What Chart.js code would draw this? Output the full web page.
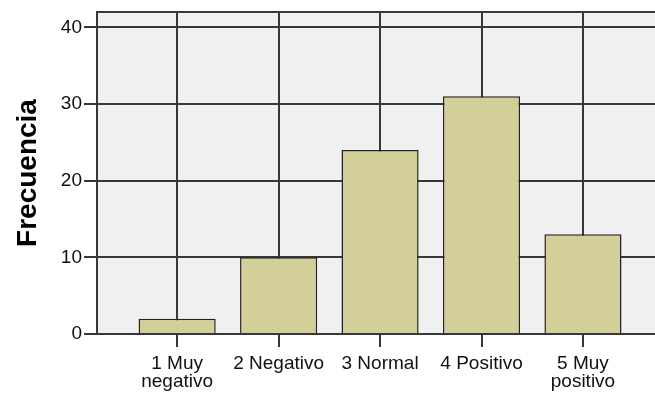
<!DOCTYPE html>
<html>
<head>
<meta charset="utf-8">
<script src="https://cdn.jsdelivr.net/npm/chart.js@4.4.1/dist/chart.umd.min.js"></script>
<style>
  html, body { margin: 0; padding: 0; background: #fff; }
  #wrap { width: 655px; height: 396px; }
</style>
</head>
<body>
<div id="wrap"><canvas id="myChart"></canvas></div>
<script>
	// categorias (etiquetas de dos lineas como en SPSS)
	const categorias = [['1 Muy', 'negativo'], ['2 Negativo'], ['3 Normal'], ['4 Positivo'], ['5 Muy', 'positivo']];
	const posiciones = [1, 2, 3, 4, 5];
	const frecuencias = [2, 10, 24, 31, 13];
	const ticksY = [0, 10, 20, 30, 40];

	const LINEA = '#383838';
	const fuente = "'Liberation Sans', Arial, sans-serif";

	// fondo gris del area + borde superior
	const fondoArea = {
		id: 'fondoArea',
		beforeDraw(chart) {
			const { ctx, chartArea: a } = chart;
			ctx.save();
			ctx.fillStyle = '#f0f0f0';
			ctx.fillRect(a.left, a.top, a.right - a.left, a.bottom - a.top);
			ctx.strokeStyle = LINEA;
			ctx.lineWidth = 2;
			ctx.beginPath();
			ctx.moveTo(a.left, a.top);
			ctx.lineTo(a.right, a.top);
			ctx.stroke();
			ctx.restore();
		}
	};

	const ctx = document.querySelector('#myChart');
	const grafico = new Chart(ctx, {
		type: 'bar',
		data: {
			datasets: [{
				label: 'Frecuencia',
				data: posiciones.map((x, i) => ({ x: x, y: frecuencias[i] })),
				backgroundColor: '#d3cf98',
				borderColor: '#222222',
				borderWidth: 1.5,
				barPercentage: 0.76,
				categoryPercentage: 1
			}]
		},
		options: {
			responsive: true,
			maintainAspectRatio: false,
			animation: false,
			layout: { padding: { top: 12, left: 0, right: 0, bottom: 0 } },
			plugins: {
				legend: { display: false },
				tooltip: { enabled: false }
			},
			scales: {
				x: {
					type: 'linear',
					min: 0.21,
					max: 5.71,
					offset: false,
					afterBuildTicks: (scale) => { scale.ticks = posiciones.map(v => ({ value: v })); },
					afterFit: (scale) => { scale.height = 62; },
					grid: { offset: false, color: LINEA, lineWidth: 2, tickLength: 13, tickColor: LINEA },
					border: { color: LINEA, width: 2 },
					ticks: {
						autoSkip: false,
						maxRotation: 0,
						padding: 8,
						color: '#111',
						font: { family: fuente, size: 19, lineHeight: 0.95 },
						callback: (v) => categorias[v - 1]
					}
				},
				y: {
					min: 0,
					max: 42,
					afterBuildTicks: (scale) => { scale.ticks = ticksY.map(v => ({ value: v })); },
					afterFit: (scale) => { scale.width = 97; },
					grid: { color: LINEA, lineWidth: 2, tickLength: 13, tickColor: LINEA },
					border: { color: LINEA, width: 2 },
					ticks: {
						padding: 2,
						color: '#111',
						font: { family: fuente, size: 19, lineHeight: 1 }
					},
					title: {
						display: true,
						text: 'Frecuencia',
						color: '#000',
						padding: { top: 11, bottom: 0 },
						font: { family: fuente, size: 28, weight: 'bold' }
					}
				}
			}
		},
		plugins: [fondoArea]
	});
</script>
</body>
</html>
